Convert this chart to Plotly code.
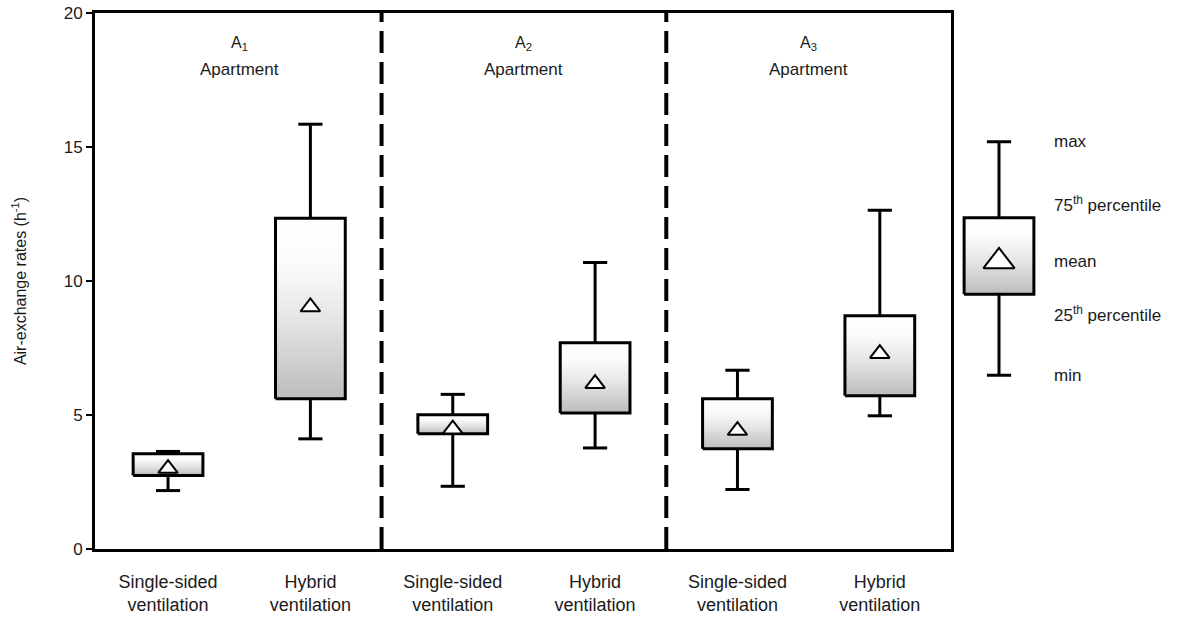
import plotly.graph_objects as go

# ---------------- data ----------------
categories = ["Single-sided<br>ventilation", "Hybrid<br>ventilation",
              "Single-sided<br>ventilation", "Hybrid<br>ventilation",
              "Single-sided<br>ventilation", "Hybrid<br>ventilation"]
groups = ["A<sub>1</sub>", "A<sub>2</sub>", "A<sub>3</sub>"]
group_sub = "Apartment"
mins = [2.18, 4.11, 2.34, 3.77, 2.22, 4.97]
q1s = [2.74, 5.61, 4.30, 5.07, 3.74, 5.72]
means = [3.00, 9.03, 4.47, 6.17, 4.42, 7.29]
q3s = [3.55, 12.34, 5.01, 7.70, 5.61, 8.70]
maxs = [3.64, 15.85, 5.77, 10.69, 6.67, 12.64]

# explanatory key box
key_labels = ["max", "75<sup>th</sup> percentile", "mean", "25<sup>th</sup> percentile", "min"]
key_values = [15.2, 12.36, 10.73, 9.51, 6.48]

# ---------------- layout constants ----------------
FONT = "Liberation Sans, Arial, sans-serif"
TXT = "#1a1a1a"
key_label_offsets = [0.0, 0.5, 0.0, -0.74, 0.0]   # where the key texts sit relative to their value
pos = list(range(len(categories)))
BW = 0.245   # half box width
CW = 0.085   # half cap width
grad = [[0, "#bcbcbc"], [0.45, "#e6e6e6"], [0.75, "#fbfbfb"], [1, "#ffffff"]]

fig = go.Figure()

def add_box(x, lo, q1, mn, q3, hi, xa, msize):
    wx = [x, x, None, x, x, None, x - CW, x + CW, None, x - CW, x + CW]
    wy = [q3, hi, None, q1, lo, None, hi, hi, None, lo, lo]
    fig.add_trace(go.Scatter(x=wx, y=wy, mode="lines", xaxis=xa, yaxis="y",
                             line=dict(color="black", width=3), hoverinfo="skip",
                             showlegend=False))
    fig.add_trace(go.Scatter(x=[x - BW, x + BW, x + BW, x - BW, x - BW],
                             y=[q1, q1, q3, q3, q1], mode="lines", fill="toself",
                             xaxis=xa, yaxis="y",
                             fillgradient=dict(type="vertical", colorscale=grad),
                             line=dict(color="black", width=3), hoverinfo="skip",
                             showlegend=False))
    fig.add_trace(go.Scatter(x=[x], y=[mn], mode="markers", xaxis=xa, yaxis="y",
                             marker=dict(symbol="triangle-up", size=msize, color="white",
                                         line=dict(color="black", width=2)),
                             showlegend=False))

for i, p in enumerate(pos):
    add_box(p, mins[i], q1s[i], means[i], q3s[i], maxs[i], "x", 17)

add_box(0, key_values[4], key_values[3], key_values[2], key_values[1], key_values[0], "x2", 27)
for lab, v, off in zip(key_labels, key_values, key_label_offsets):
    fig.add_annotation(x=0.37, y=v + off, xref="x2", yref="y", text=lab, showarrow=False,
                       xanchor="left", yanchor="middle",
                       font=dict(family=FONT, size=17, color=TXT))

for g in range(len(groups)):
    a, b = pos[2 * g], pos[2 * g + 1]
    xc = (a + b) / 2
    fig.add_annotation(x=xc, y=18.86, xref="x", yref="y", text=groups[g], showarrow=False,
                       font=dict(family=FONT, size=16, color=TXT))
    fig.add_annotation(x=xc, y=17.9, xref="x", yref="y", text=group_sub, showarrow=False,
                       font=dict(family=FONT, size=17, color=TXT))
    if g > 0:
        xs = (pos[2 * g - 1] + a) / 2
        fig.add_shape(type="line", x0=xs, x1=xs, y0=0, y1=20, xref="x", yref="y",
                      line=dict(color="black", width=4, dash="22px,9px"))

W, H = 1178, 620
L, T, B = 95, 13, 71
pw = W - L
main_frac = (951 - 95) / pw
px_per_unit = 142.4
key_center = 999 - L            # key box centre, px from plot-area left
x2_dom0 = 0.80
x2_min = (x2_dom0 * pw - key_center) / px_per_unit
x2_max = (pw - key_center) / px_per_unit

fig.update_layout(
    width=W, height=H,
    margin=dict(l=L, r=0, t=T, b=B, autoexpand=False),
    paper_bgcolor="white", plot_bgcolor="white",
    font=dict(family=FONT, color=TXT),
    xaxis=dict(domain=[0, main_frac], range=[-0.513, 5.50], showgrid=False, zeroline=False,
               tickmode="array", tickvals=pos, ticktext=categories, ticks="",
               tickfont=dict(family=FONT, size=18, color=TXT), automargin=False,
               showline=True, linewidth=3, linecolor="black", mirror=True,
               ticklabelstandoff=14),
    xaxis2=dict(domain=[x2_dom0, 1.0], range=[x2_min, x2_max], visible=False, anchor="y"),
    yaxis=dict(range=[0, 20], tickvals=[0, 5, 10, 15, 20], showgrid=False, zeroline=False,
               ticks="outside", ticklen=6, tickwidth=1.5, tickcolor="black",
               tickfont=dict(family=FONT, size=17, color=TXT), automargin=False,
               showline=True, linewidth=3, linecolor="black", mirror=True,
               title=dict(text="Air-exchange rates (h<sup>-1</sup>)", standoff=34,
                          font=dict(family=FONT, size=16, color=TXT))),
)

# remove the default 8px page margin so the figure fills the window exactly
fig.write_html("out.html", config={"displayModeBar": False},
               post_script="document.body.style.margin='0';")
